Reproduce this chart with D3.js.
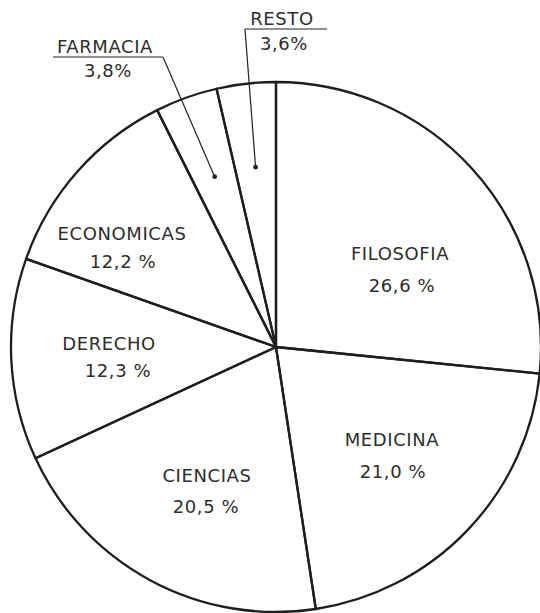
<!DOCTYPE html>
<meta charset="utf-8">
<style>
  body {
  margin: 0;
  background: #fff;
  }
  text {
  font-family: 'DejaVu Sans', sans-serif;
  font-size: 18px;
  letter-spacing: 0.6px;
  fill: #2e2e2e;
  }
</style>
<svg width="540" height="613"></svg>
<script src="https://d3js.org/d3.v7.min.js"></script>
<script>
  // data, clockwise from the top
  var categories = ["FILOSOFIA", "MEDICINA", "CIENCIAS", "DERECHO", "ECONOMICAS", "FARMACIA", "RESTO"];
  var shares = [26.6, 21.0, 20.5, 12.3, 12.2, 3.8, 3.6];

  var svg = d3.select("svg"),
      cx = 276, cy = 347,
      r = 265;

  var g = svg.append("g").attr("transform", "translate(" + cx + "," + cy + ")");

  var locale = d3.formatLocale({decimal: ",", thousands: ".", grouping: [3], currency: ["", ""]});
  var fmt = locale.format(".1f");

  var pie = d3.pie()
    .sort(null)
    .value(function(d) { return d.value; });

  var arc = d3.arc()
    .innerRadius(0)
    .outerRadius(r);

  // where the leader lines end inside the thin slices
  var dotArc = d3.arc()
    .innerRadius(181)
    .outerRadius(181);

  var data = categories.map(function(c, i) { return {name: c, value: shares[i]}; });
  var arcs = pie(data);

  g.selectAll("path.slice")
    .data(arcs)
    .enter().append("path")
    .attr("class", "slice")
    .attr("d", arc)
    .attr("fill", "none")
    .attr("stroke", "#1e1e1e")
    .attr("stroke-width", 2.3)
    .attr("stroke-linejoin", "round");

  // hand placed label spots (page coords): name baseline, value baseline
  var labelAt = {
    "FILOSOFIA":  {x: 400, y: 260, x2: 402, y2: 292},
    "MEDICINA":   {x: 392, y: 446, x2: 393, y2: 478},
    "CIENCIAS":   {x: 207, y: 482, x2: 206, y2: 513},
    "DERECHO":    {x: 109, y: 350, x2: 118, y2: 377},
    "ECONOMICAS": {x: 122, y: 240, x2: 123, y2: 268},
    "FARMACIA":   {x: 105, y: 53,  x2: 108, y2: 77, line: [53, 163, 57]},
    "RESTO":      {x: 282, y: 25,  x2: 284, y2: 50, line: [245, 327, 29], from: 245}
  };

  var labels = svg.append("g");

  arcs.forEach(function(a) {
    var p = labelAt[a.data.name];
    var small = a.data.value < 5;
    labels.append("text")
      .attr("x", p.x)
      .attr("y", p.y)
      .attr("text-anchor", "middle")
      .text(a.data.name);
    labels.append("text")
      .attr("x", p.x2)
      .attr("y", p.y2)
      .attr("text-anchor", "middle")
      .text(fmt(a.data.value) + (small ? "%" : " %"));

    if (p.line) {
      // underline and leader to a dot inside the slice
      labels.append("line")
        .attr("x1", p.line[0]).attr("x2", p.line[1])
        .attr("y1", p.line[2]).attr("y2", p.line[2])
        .attr("stroke", "#222").attr("stroke-width", 1.2);
      var c = dotArc.centroid(a);
      var sx = p.from != null ? p.from : p.line[1];
      labels.append("line")
        .attr("x1", sx).attr("y1", p.line[2])
        .attr("x2", cx + c[0]).attr("y2", cy + c[1])
        .attr("stroke", "#222").attr("stroke-width", 1.2);
      labels.append("circle")
        .attr("cx", cx + c[0]).attr("cy", cy + c[1])
        .attr("r", 2.4)
        .attr("fill", "#222");
    }
  });
</script>
